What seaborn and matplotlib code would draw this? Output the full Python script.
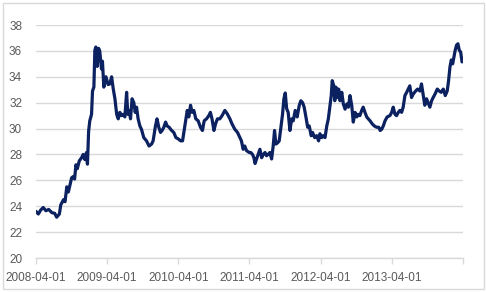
import pandas as pd
import numpy as np
import matplotlib
matplotlib.use("Agg")
import matplotlib.pyplot as plt
import matplotlib.dates as mdates
from matplotlib.patches import Rectangle
import seaborn as sns

# values
dates = [
    "2008-04-01", "2008-04-13", "2008-04-25", "2008-05-08", "2008-05-22", "2008-06-05",
    "2008-06-22", "2008-07-06", "2008-07-16", "2008-07-30", "2008-08-06", "2008-08-20",
    "2008-08-28", "2008-09-06", "2008-09-14", "2008-09-23", "2008-10-01", "2008-10-10",
    "2008-10-16", "2008-10-23", "2008-10-30", "2008-11-09", "2008-11-21", "2008-11-29",
    "2008-12-08", "2008-12-16", "2008-12-21", "2008-12-27", "2009-01-02", "2009-01-11",
    "2009-01-16", "2009-01-23", "2009-01-28", "2009-02-02", "2009-02-09", "2009-02-16",
    "2009-02-22", "2009-03-03", "2009-03-08", "2009-03-15", "2009-03-26", "2009-04-06",
    "2009-04-15", "2009-04-24", "2009-05-02", "2009-05-11", "2009-05-20", "2009-05-28",
    "2009-06-05", "2009-06-14", "2009-06-22", "2009-07-01", "2009-07-10", "2009-07-16",
    "2009-07-23", "2009-07-30", "2009-08-07", "2009-08-16", "2009-08-23", "2009-08-30",
    "2009-09-07", "2009-09-16", "2009-09-24", "2009-10-06", "2009-10-20", "2009-11-02",
    "2009-11-15", "2009-11-23", "2009-12-05", "2009-12-13", "2009-12-22", "2009-12-31",
    "2010-01-08", "2010-01-17", "2010-01-26", "2010-02-03", "2010-02-13", "2010-02-26",
    "2010-03-09", "2010-03-20", "2010-04-01", "2010-04-13", "2010-04-23", "2010-05-01",
    "2010-05-10", "2010-05-17", "2010-05-25", "2010-06-03", "2010-06-11", "2010-06-20",
    "2010-06-30", "2010-07-12", "2010-07-24", "2010-08-03", "2010-08-12", "2010-08-24",
    "2010-09-05", "2010-09-13", "2010-09-21", "2010-10-01", "2010-10-09", "2010-10-19",
    "2010-10-31", "2010-11-12", "2010-11-26", "2010-12-08", "2010-12-22", "2011-01-02",
    "2011-01-16", "2011-01-30", "2011-02-11", "2011-02-19", "2011-02-28", "2011-03-08",
    "2011-03-17", "2011-03-31", "2011-04-08", "2011-04-17", "2011-04-24", "2011-04-30",
    "2011-05-08", "2011-05-16", "2011-05-25", "2011-06-03", "2011-06-11", "2011-06-20",
    "2011-06-28", "2011-07-06", "2011-07-15", "2011-07-24", "2011-08-01", "2011-08-08",
    "2011-08-15", "2011-08-24", "2011-09-01", "2011-09-10", "2011-09-18", "2011-09-25",
    "2011-10-02", "2011-10-09", "2011-10-17", "2011-10-26", "2011-11-04", "2011-11-12",
    "2011-11-22", "2011-12-02", "2011-12-13", "2011-12-21", "2011-12-30", "2012-01-07",
    "2012-01-16", "2012-01-25", "2012-02-02", "2012-02-12", "2012-02-19", "2012-03-01",
    "2012-03-11", "2012-03-21", "2012-03-28", "2012-04-06", "2012-04-14", "2012-04-23",
    "2012-05-02", "2012-05-10", "2012-05-19", "2012-05-25", "2012-05-30", "2012-06-07",
    "2012-06-12", "2012-06-18", "2012-06-25", "2012-07-02", "2012-07-09", "2012-07-18",
    "2012-07-26", "2012-08-04", "2012-08-13", "2012-08-21", "2012-08-29", "2012-09-07",
    "2012-09-15", "2012-09-24", "2012-10-03", "2012-10-11", "2012-10-19", "2012-10-28",
    "2012-11-05", "2012-11-14", "2012-11-23", "2012-12-01", "2012-12-10", "2012-12-22",
    "2013-01-01", "2013-01-13", "2013-01-24", "2013-01-31", "2013-02-08", "2013-02-16",
    "2013-02-25", "2013-03-08", "2013-03-22", "2013-03-31", "2013-04-08", "2013-04-17",
    "2013-04-25", "2013-05-04", "2013-05-12", "2013-05-21", "2013-05-29", "2013-06-07",
    "2013-06-16", "2013-06-24", "2013-07-02", "2013-07-11", "2013-07-19", "2013-08-01",
    "2013-08-11", "2013-08-23", "2013-08-31", "2013-09-09", "2013-09-17", "2013-09-26",
    "2013-10-04", "2013-10-13", "2013-10-22", "2013-10-30", "2013-11-08", "2013-11-20",
    "2013-11-30", "2013-12-10", "2013-12-21", "2013-12-31", "2014-01-10", "2014-01-17",
    "2014-01-24", "2014-01-31", "2014-02-07", "2014-02-13", "2014-02-20", "2014-02-27",
    "2014-03-06", "2014-03-13", "2014-03-20", "2014-03-27",
]
level = [
    23.6, 23.4, 23.7, 23.9, 23.65, 23.75,
    23.5, 23.45, 23.15, 23.4, 24.1, 24.5,
    24.35, 25.5, 25.1, 25.7, 26.2, 26.3,
    26.1, 27.2, 26.9, 27.5, 27.75, 28.0,
    27.6, 28.15, 27.25, 29.8, 30.6, 31.1,
    32.9, 33.2, 36.05, 36.3, 34.8, 36.2,
    36.0, 34.6, 35.2, 33.2, 34.0, 33.4,
    33.45, 34.0, 33.1, 32.3, 31.1, 30.75,
    31.25, 31.0, 31.1, 30.9, 32.8, 31.1,
    31.4, 30.75, 32.3, 32.0, 31.25, 31.65,
    30.75, 30.2, 29.95, 29.3, 29.05, 28.65,
    28.8, 29.05, 30.2, 30.75, 30.1, 29.7,
    29.85, 30.1, 30.5, 30.2, 30.1, 29.85,
    29.7, 29.3, 29.2, 29.05, 29.05, 29.85,
    30.75, 31.4, 30.9, 31.8, 31.25, 31.4,
    30.75, 30.6, 30.1, 29.85, 30.6, 30.75,
    31.0, 31.25, 30.75, 29.85, 30.35, 30.75,
    30.75, 31.0, 31.4, 31.15, 30.75, 30.35,
    29.95, 29.7, 29.3, 29.05, 28.4, 28.65,
    28.3, 28.15, 28.15, 28.0, 27.75, 27.3,
    27.65, 28.0, 28.4, 27.75, 28.0, 28.15,
    27.9, 28.0, 28.15, 27.65, 28.65, 29.85,
    28.8, 28.9, 29.05, 30.1, 31.1, 32.3,
    32.75, 31.55, 31.25, 29.85, 30.75, 30.6,
    31.4, 30.9, 31.8, 32.15, 32.0, 31.65,
    30.9, 30.1, 30.2, 29.45, 29.7, 29.3,
    29.45, 29.05, 29.6, 29.3, 29.45, 29.3,
    30.2, 30.75, 31.8, 32.55, 33.7, 33.3,
    32.15, 33.2, 32.4, 33.05, 32.15, 32.8,
    31.9, 31.5, 31.9, 31.65, 32.55, 31.8,
    30.5, 31.25, 30.9, 31.1, 31.0, 31.4,
    31.65, 31.25, 30.9, 30.75, 30.6, 30.35,
    30.2, 30.1, 30.1, 29.85, 29.95, 30.2,
    30.6, 30.9, 31.0, 31.25, 31.65, 31.1,
    31.0, 31.25, 31.4, 31.25, 31.65, 32.55,
    32.8, 33.05, 33.3, 32.4, 32.65, 32.9,
    33.05, 32.9, 33.45, 32.55, 31.8, 32.3,
    32.0, 31.65, 32.15, 32.4, 32.65, 33.05,
    32.9, 32.8, 33.05, 32.55, 32.9, 33.7,
    34.75, 35.3, 35.0, 35.5, 36.05, 36.45,
    36.55, 36.05, 35.9, 35.15,
]
tick_dates = ["2008-04-01", "2009-04-01", "2010-04-01", "2011-04-01",
              "2012-04-01", "2013-04-01", "2014-04-01"]
tick_labels = ["2008-04-01", "2009-04-01", "2010-04-01", "2011-04-01",
               "2012-04-01", "2013-04-01", ""]

df = pd.DataFrame({"date": pd.to_datetime(dates), "level": level})

sns.set_style("white")
plt.rcParams["font.family"] = ["Liberation Sans", "DejaVu Sans"]

fig = plt.figure(figsize=(4.86, 2.92), dpi=100)
ax = fig.add_axes([36 / 486, 1 - 258 / 292, (463 - 36) / 486, (258 - 25) / 292])

sns.lineplot(data=df, x="date", y="level", ax=ax, color="#0b2160", linewidth=2.3)

ax.set_ylim(20, 38)
ax.set_yticks(np.arange(20, 39, 2))
ax.set_xlim(pd.Timestamp(tick_dates[0]), pd.Timestamp(tick_dates[-1]))
ax.set_xticks(pd.to_datetime(tick_dates))
ax.set_xticklabels(tick_labels)
ax.set_xlabel("")
ax.set_ylabel("")

ax.grid(axis="y", color="#d9d9d9", linewidth=1)
ax.set_axisbelow(True)
for side in ["left", "right", "top"]:
    ax.spines[side].set_visible(False)
ax.spines["bottom"].set_color("#d9d9d9")
ax.spines["bottom"].set_linewidth(1)

ax.tick_params(axis="x", length=4, color="#d9d9d9", width=1, pad=6,
               labelsize=8.5, labelcolor="#595959", bottom=True)
ax.tick_params(axis="y", length=0, pad=10, labelsize=8.5, labelcolor="#595959")

# light frame around the whole chart
fig.patches.append(Rectangle((3 / 486, 3 / 292), 481 / 486, 286 / 292,
                             transform=fig.transFigure, fill=False,
                             edgecolor="#d9d9d9", linewidth=1))

fig.savefig("out.png", dpi=100)
